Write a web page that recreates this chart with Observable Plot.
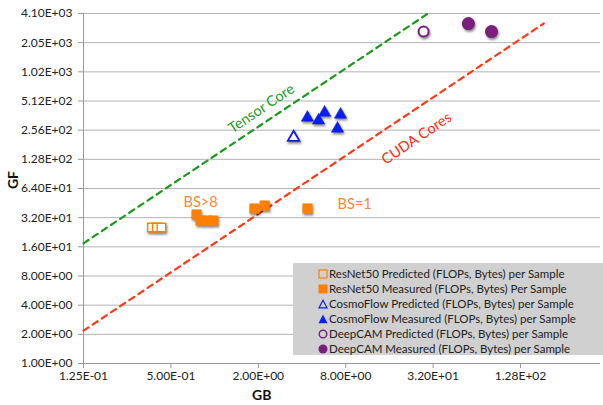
<!DOCTYPE html>
<html><head><meta charset="utf-8">
<script src="https://cdn.jsdelivr.net/npm/d3@7"></script>
<script src="https://cdn.jsdelivr.net/npm/@observablehq/plot@0.6"></script>
<style>
body{margin:0;background:#fff;}
#wrap{position:relative;width:603px;height:405px;font-family:Lato,"Open Sans",sans-serif;overflow:hidden;}
#wrap > svg{position:absolute;left:0;top:0;}
g[aria-label="dot"]{filter:drop-shadow(1px 2px 1px rgba(0,0,0,0.45));}
g[aria-label="annotations"]{filter:drop-shadow(1px 1.5px 1px rgba(0,0,0,0.3));}
.legend{position:absolute;left:293px;top:263px;width:310px;height:92px;background:#d0d0d0;font-size:11.5px;color:#222;}
.legend .row{position:absolute;left:0;height:15px;line-height:15px;white-space:nowrap;}
.legend .row svg{position:absolute;left:25px;top:3px;}
.legend .row span{position:absolute;left:36px;top:0;}
.axlab{position:absolute;font-weight:bold;font-size:14px;line-height:12px;color:#111;}
</style></head>
<body><div id="wrap"></div>
<script>
// ---- data ----
const xTicks = [0.125, 0.5, 2, 8, 32, 128];
const yTicks = [1, 2, 4, 8, 16, 32, 64, 128, 256, 512, 1024, 2048, 4096];

const resnetPredGB = [0.37, 0.40, 0.43];
const resnetPredGF = [25.3, 25.3, 25.3];
const resnetMeasGB = [0.75, 0.80, 0.89, 0.98, 1.88, 2.21, 4.36];
const resnetMeasGF = [34.5, 29.9, 29.9, 29.9, 39.8, 42.7, 39.8];
const cosmoPredGB = [3.5];
const cosmoPredGF = [215];
const cosmoMeasGB = [4.36, 5.2, 5.72, 7.02, 7.37];
const cosmoMeasGF = [345, 322, 389, 266, 371];
const deepPredGB = [27.5];
const deepPredGF = [2666];
const deepMeasGB = [56, 80.8];
const deepMeasGF = [3228, 2666];

const tensorGB = [0.125, 29.5];
const tensorGF = [17.4, 4096];
const cudaGB = [0.125, 185];
const cudaGF = [2.18, 3230];

const seriesNames = [
  "ResNet50 Predicted (FLOPs, Bytes) per Sample",
  "ResNet50 Measured (FLOPs, Bytes) Per Sample",
  "CosmoFlow Predicted (FLOPs, Bytes) per Sample",
  "CosmoFlow Measured (FLOPs, Bytes) per Sample",
  "DeepCAM Predicted (FLOPs, Bytes) per Sample",
  "DeepCAM Measured (FLOPs, Bytes) per Sample"
];
const labelTexts = ["Tensor Core", "CUDA Cores", "BS>8", "BS=1"];
const labelGB = [2.1, 24.6, 0.80, 9.2];
const labelGF = [428, 210, 45.9, 43.7];

// ---- helpers ----
const ORANGE = "#ff8000", BLUE = "#0a1ef0", PURPLE = "#7a1f7e";
const fmt = d => { const [m, e] = d.toExponential(2).split("e"); const n = +e; return m + "E" + (n < 0 ? "-" : "+") + String(Math.abs(n)).padStart(2, "0"); };
const pts = (xs, ys) => xs.map((x, i) => ({x, y: ys[i]}));

const chart = Plot.plot({
  width: 603, height: 405,
  marginLeft: 83, marginRight: 3, marginTop: 13, marginBottom: 42,
  style: {fontFamily: "Lato, 'Open Sans', sans-serif", fontSize: "12px", color: "#222", background: "transparent"},
  x: {type: "log", domain: [0.125, 455]},
  y: {type: "log", domain: [1, 4096]},
  marks: [
    Plot.ruleY(yTicks, {stroke: "#b4b4b4", strokeWidth: 1}),
    Plot.ruleX([0.125], {stroke: "#999"}),
    Plot.ruleY([1], {stroke: "#999"}),
    Plot.axisX(xTicks, {tickFormat: () => "", tickSize: 5, stroke: "#999", label: null}),
    Plot.axisY(yTicks, {tickFormat: () => "", tickSize: 5, stroke: "#999", label: null}),
    Plot.text(xTicks, {x: d => d, y: 1, text: fmt, dy: 13, fill: "#222", fontSize: 12, ariaLabel: "xlabels"}),
    Plot.text(yTicks, {x: 0.125, y: d => d, text: fmt, dx: -11, textAnchor: "end", fill: "#222", fontSize: 12, ariaLabel: "ylabels"}),
    Plot.line(pts(tensorGB, tensorGF), {x: "x", y: "y", stroke: "#1a9a1a", strokeWidth: 2.2, strokeDasharray: "6,5"}),
    Plot.line(pts(cudaGB, cudaGF), {x: "x", y: "y", stroke: "#ff3a14", strokeWidth: 2.2, strokeDasharray: "6,5"}),
    Plot.dot(pts(resnetPredGB, resnetPredGF), {x: "x", y: "y", symbol: "square", r: 4.8, fill: "white", stroke: ORANGE, strokeWidth: 1.4}),
    Plot.dot(pts(resnetMeasGB, resnetMeasGF), {x: "x", y: "y", symbol: "square", r: 5.4, fill: ORANGE, stroke: ORANGE, strokeWidth: 0.5}),
    Plot.dot(pts(cosmoPredGB, cosmoPredGF), {x: "x", y: "y", symbol: "triangle", r: 4.3, fill: "white", stroke: BLUE, strokeWidth: 1.8}),
    Plot.dot(pts(cosmoMeasGB, cosmoMeasGF), {x: "x", y: "y", symbol: "triangle", r: 4.6, fill: BLUE, stroke: BLUE, strokeWidth: 0.5}),
    Plot.dot(pts(deepPredGB, deepPredGF), {x: "x", y: "y", symbol: "circle", r: 5, fill: "white", stroke: PURPLE, strokeWidth: 2}),
    Plot.dot(pts(deepMeasGB, deepMeasGF), {x: "x", y: "y", symbol: "circle", r: 5.8, fill: PURPLE, stroke: PURPLE}),
    Plot.text(labelTexts.map((t, i) => ({t, x: labelGB[i], y: labelGF[i], i})), {
      x: "x", y: "y", text: "t", fontSize: 14.5, rotate: d => (d.i < 2 ? -34 : 0), ariaLabel: "annotations",
      fill: d => ["#1e9a1e", "#ff2a10", "#f7883a", "#f7883a"][d.i]
    })
  ]
});
const wrap = document.getElementById("wrap");
wrap.appendChild(chart);

// axis titles
const gf = document.createElement("div");
gf.className = "axlab"; gf.textContent = "GF";
gf.style.cssText = "left:4px;top:174px;transform:rotate(-90deg);";
wrap.appendChild(gf);
const gb = document.createElement("div");
gb.className = "axlab"; gb.textContent = "GB";
gb.style.cssText = "left:252px;top:389px;";
wrap.appendChild(gb);

// legend
const legend = document.createElement("div");
legend.className = "legend";
const markers = [
  `<rect x="1" y="1" width="8" height="8" fill="none" stroke="${ORANGE}" stroke-width="1.2"/>`,
  `<rect x="0.5" y="0.5" width="9" height="9" fill="${ORANGE}"/>`,
  `<path d="M5,1.2 L9,8.8 L1,8.8 Z" fill="none" stroke="${BLUE}" stroke-width="1.2"/>`,
  `<path d="M5,0.5 L9.5,9.3 L0.5,9.3 Z" fill="${BLUE}"/>`,
  `<circle cx="5" cy="5" r="3.8" fill="none" stroke="${PURPLE}" stroke-width="1.4"/>`,
  `<circle cx="5" cy="5" r="4.5" fill="${PURPLE}"/>`
];
seriesNames.forEach((name, i) => {
  const row = document.createElement("div");
  row.className = "row";
  row.style.top = (2.5 + i * 15) + "px";
  row.innerHTML = `<svg width="10" height="10">${markers[i]}</svg><span>${name}</span>`;
  legend.appendChild(row);
});
wrap.appendChild(legend);
</script></body></html>
